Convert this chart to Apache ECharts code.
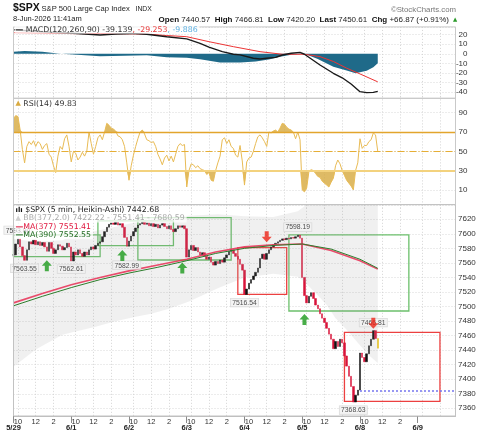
<!DOCTYPE html>
<html><head><meta charset="utf-8">
<script src="https://cdn.jsdelivr.net/npm/echarts@6/dist/echarts.min.js"></script>
<style>html,body{margin:0;padding:0;background:#fff;}#c{width:480px;height:434px;}</style>
</head><body><div id="c"></div>
<script>
// ---------------- data ----------------
const days = ['5/29','6/1','6/2','6/3','6/4','6/5','6/8','6/9'];
const SLOTS = 26;          // 15-min slots per session
const NCAT = 200;          // slots shown on the axis
const labeledDays = 7;     // days that get the 10/12/2 labels
const timeSlotLabels = {2:'10', 10:'12', 18:'2'};

// 15-min closes (Heikin-Ashi style line), 5/29 09:30 .. 6/8 11:30
const closes = [
 7571,7586,7593,7582,7570,7563.55,7578,7589,7586,7591,7585,7589,7584,7588,7582,7576,7588,7580,7573,7578,7585,7583,7578,7581,7587,7582,
 7562.61,7575,7571,7578,7573,7569,7575,7571,7578,7582,7579,7584,7587,7589,7596,7603,7609,7613,7615,7613,7616,7612,7614,7609,7595,7582.99,
 7590,7597,7603,7608,7612,7614,7616,7613,7615,7611,7614,7610,7613,7608,7612,7614,7610,7607,7611,7606,7603,7607,7611,7609,7611,7607,
 7568,7578,7584,7577,7581,7575,7571,7574,7569,7565,7568,7561,7557,7562,7559,7564,7561,7567,7571,7576,7578,7573,7569,7565,7558,7550,
 7516.54,7524,7532,7537,7542,7547,7553,7566,7572,7565,7573,7578,7582,7585,7587,7589,7591,7593,7592,7594,7593,7595,7594,7596,7598.19,7594,
 7540,7515,7505,7514,7519,7511,7502,7497,7490,7484,7478,7470,7462,7455,7442,7452,7445,7455,7450,7432,7418,7404,7390,7368.63,7378,7385,
 7436,7430,7424,7435,7446,7455,7466.81,7456,7442.68
];
const rsi = [
 84,87,86,72,52,38,55,60,57,61,55,60,58,52,56,58,47,44,35,28,45,55,52,63,67,55,
 39,50,48,41,44,49,45,50,70,58,47,55,64,67,62,70,79,77,74,73,71,66,65,62,55,38,
 20,35,46,55,63,70,72,68,62,61,59,60,55,47,42,36,43,46,40,45,39,47,55,58,56,57,
 13,30,37,36,33,35,32,31,30,26,28,20,19,30,38,45,62,64,58,62,55,53,46,44,56,40,
 15,39,43,44,50,58,65,67,64,60,55,70,69,71,72,70,74,79,78,75,73,72,70,63,70,62,
 10,8,12,29,31,30,27,24,23,19,17,15,13,18,22,35,41,37,30,25,20,17,14,10,30,38,
 63,53,56,56,60,62,69,67,49.83
];
const maIdx  = [0,13,26,39,52,65,78,91,104,117,130,143,156,164];
const ma377  = [7505,7518,7530,7540,7549,7557,7565,7575,7582,7585,7586,7577,7563,7551.41];
const ma390  = [7501,7514,7526,7537,7546,7554,7563,7573,7580,7584,7586,7579,7565,7552.55];
const bbIdx   = [0,10,22,27,37,45,55,62,70,79,92,104,117,128,131,138,141,145,150,155,160,164];
const bbLower = [7417,7441,7461,7465,7472,7479,7486,7490,7497,7507,7525,7540,7545,7541,7534,7512,7502,7484,7468,7450,7433,7422.22];
const bbUpper = [7593,7589,7591,7597,7604,7609,7616,7620,7623,7625,7627,7624,7623,7631,7638,7652,7656,7666,7672,7680,7681,7680.59];
const macdIdx  = [0,13,27,39,46,53,60,69,78,84,88,94,99,102,108,111,114,118,121,125,129,131,138,144,148,152,156,159,162,164];
const macdVals = [25,23,21.4,19.6,20.6,21.2,20.3,17.8,15.5,10.9,7,2.2,-0.5,-1.2,-4.7,-5.5,-4.7,-3.7,-1.3,0.5,1.5,-0.5,-11.7,-20.3,-25,-31.5,-39.5,-40.5,-40.2,-39.139];
const sigIdx  = [0,13,27,39,53,60,69,78,88,99,111,121,131,138,144,150,156,164];
const sigVals = [22,21.5,21,21,20.8,20.5,19,17.8,12.6,7.4,2.2,-0.5,-0.5,-3,-8,-15,-21,-29.253];
const histIdx  = [0,5,13,20,27,39,50,60,69,78,84,93,102,109,115,120,125,131,137,144,150,154,159,162,164];
const histVals = [2.0,2.8,2.0,0.3,-0.8,-2.5,-2.0,-1.5,-3.5,-4.2,-5.8,-9.0,-9.2,-8.0,-6.0,-3.0,-1.0,0,-5.5,-13.4,-17.5,-20.3,-17.6,-14.0,-9.886];
const upIdx = [15,49,76,131];   const upVals = [7556,7570,7553,7482];
const downIdx = [114,162];      const downVals = [7596,7477];
const hiloIdx  = [2,5,26,51,104,128,153,162];
const hiloVals = [7593.80,7563.55,7562.61,7582.99,7516.54,7598.19,7368.63,7466.81];
const hiloSide = ['top','bottom','bottom','bottom','bottom','top','bottom','top'];
// annotation boxes: [slotFrom, priceLow, slotTo, priceHigh, kind]
const boxes = [
 [0,7568.6,39,7598.4,'buy'],
 [38,7583.7,72,7617.7,'buy'],
 [56,7564,98,7622.2,'buy'],
 [100.5,7516.8,123,7581,'sell'],
 [124,7493.8,178,7598.4,'buy'],
 [149,7369.4,192,7464.3,'sell']
];
const prevClose = 7383.74;

// ---------------- build ----------------
const categories = [];
for (let k = 0; k < NCAT; k++) {
  const d = Math.floor(k / SLOTS), s = k % SLOTS;
  const m = 570 + s * 15;
  categories.push(days[d] + ' ' + String(Math.floor(m/60)).padStart(2,'0') + ':' + String(m%60).padStart(2,'0'));
}
const isGridCat = i => timeSlotLabels[i % SLOTS] !== undefined;
const isTimeCat = i => isGridCat(i) && Math.floor(i / SLOTS) < labeledDays;
const isDayStart = i => i % SLOTS === 0;
const pairs = (idx, vals) => idx.map((x, k) => [x, vals[k]]);

const ohlc = closes.map((c, i) => {
  const o = i === 0 ? c : closes[i-1];
  const item = {value: [o, c, Math.min(o,c), Math.max(o,c)]};
  if (i === closes.length - 1) item.itemStyle = {color:'#e8c010', color0:'#e8c010', borderColor:'#e8c010', borderColor0:'#e8c010'};
  return item;
});

const GL = 13.5, GW = 442;
const gridLine = {show:true, interval:(i)=>isGridCat(i), lineStyle:{color:'#d4d4d4', type:[1,2], width:1}};
const hSplit = {show:true, lineStyle:{color:'#d8d8d8', type:[1,2], width:1}};
const yLab = {fontSize:8, color:'#333', fontFamily:'Liberation Sans'};
const panelX = (gi) => ({type:'category', gridIndex:gi, data:categories, boundaryGap:false,
  axisLine:{show:false}, axisTick:{show:false}, axisLabel:{show:false}, splitLine:gridLine});

const kindColor = {buy:'#6cc06c', sell:'#ec4040'};
const legendFont = '7.8px "DejaVu Sans"';
const legBg = 'rgba(255,255,255,0.75)';

const option = {
  animation: false,
  backgroundColor: '#fff',
  textStyle: {fontFamily: 'Liberation Sans'},
  grid: [
    {left:GL, width:GW, top:26.9, height:71.4, outerBoundsMode:'none', containLabel:false, show:false},
    {left:GL, width:GW, top:93.4, height:115.8, outerBoundsMode:'none', containLabel:false, show:false},
    {left:GL, width:GW, top:204.8, height:211.2, outerBoundsMode:'none', containLabel:false, show:false}
  ],
  xAxis: [
    panelX(0), panelX(1),
    {type:'category', gridIndex:2, data:categories, boundaryGap:false, position:'bottom',
     axisLine:{show:true, lineStyle:{color:'#bdbdbd'}}, axisTick:{show:false},
     axisLabel:{show:true, interval:(i)=>isTimeCat(i), formatter:(v,i)=>timeSlotLabels[i % SLOTS] || '',
                margin:1.5, fontSize:7.5, color:'#333', fontFamily:'Liberation Sans'},
     splitLine:gridLine},
    {type:'category', gridIndex:2, data:categories, boundaryGap:false, position:'bottom',
     axisLine:{show:false},
     axisTick:{show:true, interval:(i)=>isDayStart(i), length:7, lineStyle:{color:'#8a8a8a'}},
     axisLabel:{show:true, interval:(i)=>isDayStart(i), formatter:(v,i)=>days[Math.floor(i / SLOTS)],
                margin:7.5, fontSize:7.5, fontWeight:'bold', color:'#222', fontFamily:'Liberation Sans'},
     splitLine:{show:false}}
  ],
  yAxis: [
    {type:'value', gridIndex:0, position:'right', min:-46.4, max:28, minInterval:10, maxInterval:10,
     axisLine:{show:false}, axisTick:{show:false},
     axisLabel:Object.assign({align:'right', margin:12, formatter:v => (Math.abs(v % 10) < 1e-6 ? String(v) : '')}, yLab),
     splitLine:hSplit},
    {type:'value', gridIndex:1, position:'right', min:-10, max:110, interval:20,
     axisLine:{show:false}, axisTick:{show:false},
     axisLabel:Object.assign({align:'right', margin:12, showMinLabel:false, showMaxLabel:false,
                formatter:v => (v >= 0 && v <= 100 ? String(v) : '')}, yLab),
     splitLine:Object.assign({showMinLine:false, showMaxLine:false}, hSplit)},
    {type:'value', gridIndex:2, position:'right', min:7349.4, max:7639.9, minInterval:20, maxInterval:20,
     axisLine:{show:false}, axisTick:{show:false},
     axisLabel:Object.assign({margin:2.5, formatter:v => (Math.abs(v % 20) < 1e-6 ? String(v) : '')}, yLab),
     splitLine:hSplit}
  ],
  series: [
    // MACD panel
    {name:'hist', type:'line', xAxisIndex:0, yAxisIndex:0, data:pairs(histIdx, histVals), symbol:'none',
     lineStyle:{width:0}, areaStyle:{color:'#1f6a89', opacity:1}, silent:true},
    {name:'signal', type:'line', xAxisIndex:0, yAxisIndex:0, data:pairs(sigIdx, sigVals), symbol:'none',
     lineStyle:{color:'#ec3535', width:1}, silent:true},
    {name:'macd', type:'line', xAxisIndex:0, yAxisIndex:0, data:pairs(macdIdx, macdVals), symbol:'none',
     lineStyle:{color:'#1a1a1a', width:1.4}, silent:true},
    // RSI panel
    {name:'rsiHi', type:'line', xAxisIndex:1, yAxisIndex:1, data:rsi.map(v => Math.max(v, 70)), symbol:'none',
     lineStyle:{width:0}, areaStyle:{origin:70, color:'#d6a93e', opacity:0.8}, silent:true},
    {name:'rsiLo', type:'line', xAxisIndex:1, yAxisIndex:1, data:rsi.map(v => Math.min(v, 30)), symbol:'none',
     lineStyle:{width:0}, areaStyle:{origin:30, color:'#d6a93e', opacity:0.8}, silent:true},
    {name:'rsi', type:'line', xAxisIndex:1, yAxisIndex:1, data:rsi, symbol:'none',
     lineStyle:{color:'#e8bb55', width:1}, silent:true,
     markLine:{silent:true, symbol:['none','none'], label:{show:false},
       data:[
         {yAxis:70, lineStyle:{color:'#e2a52c', width:1.4, type:'solid'}},
         {yAxis:50, lineStyle:{color:'#e6ae35', width:1.2, type:[7,2,1,2]}},
         {yAxis:30, lineStyle:{color:'#f3d27e', width:2.2, type:'solid'}}
       ]}},
    // Price panel
    {name:'bbLow', type:'line', xAxisIndex:2, yAxisIndex:2, data:pairs(bbIdx, bbLower), stack:'bb', symbol:'none',
     lineStyle:{width:0}, silent:true},
    {name:'bbSpan', type:'line', xAxisIndex:2, yAxisIndex:2, data:bbIdx.map((x,k)=>[x, bbUpper[k]-bbLower[k]]), stack:'bb', symbol:'none',
     lineStyle:{width:0}, areaStyle:{color:'rgba(150,150,150,0.2)'}, silent:true},
    {name:'ma377', type:'line', xAxisIndex:2, yAxisIndex:2, data:pairs(maIdx, ma377), symbol:'none',
     lineStyle:{color:'#e8385c', width:1.6, opacity:0.9}, silent:true},
    {name:'ma390', type:'line', xAxisIndex:2, yAxisIndex:2, data:pairs(maIdx, ma390), symbol:'none',
     lineStyle:{color:'#2c7d2c', width:1}, silent:true},
    {name:'price', type:'candlestick', xAxisIndex:2, yAxisIndex:2, data:ohlc, barWidth:2, silent:true,
     itemStyle:{color:'#111', color0:'#d8143a', borderColor:'#111', borderColor0:'#d8143a', borderWidth:0.5}},
    {name:'notes', type:'line', xAxisIndex:2, yAxisIndex:2, data:[], z:5, silent:true,
     markArea:{silent:true, label:{show:false},
       data: boxes.map(b => [
         {coord:[b[0], b[1]], itemStyle:{color:'rgba(0,0,0,0)', borderColor:kindColor[b[4]], borderWidth:1.3}},
         {coord:[b[2], b[3]]}
       ])},
     markLine:{silent:true, symbol:['none','none'], label:{show:false},
       lineStyle:{color:'#7676ee', type:[2,2], width:1.5},
       data:[[{coord:[156, prevClose]}, {coord:[NCAT-1, prevClose]}]]}},
    {name:'hilo', type:'scatter', xAxisIndex:2, yAxisIndex:2, symbolSize:0.1, z:6, silent:true,
     data: hiloIdx.map((x,k) => ({value:[x, hiloVals[k]],
       label:{show:true, position:hiloSide[k], distance: (k === 3 ? 15 : 4),
              formatter: hiloVals[k].toFixed(2), fontSize:6.8, color:'#222', fontFamily:'Liberation Sans',
              backgroundColor:'#f3f3f3', borderColor:'#cfcfcf', borderWidth:0.6, padding:[1,1.5,0,1.5]}}))},
    {name:'buy', type:'scatter', xAxisIndex:2, yAxisIndex:2, data:pairs(upIdx, upVals), z:7, silent:true,
     symbol:'path://M5,0 L10,5 L7,5 L7,10 L3,10 L3,5 L0,5 Z', symbolSize:[10,11],
     itemStyle:{color:'#1c9a1c'}},
    {name:'sell', type:'scatter', xAxisIndex:2, yAxisIndex:2, data:pairs(downIdx, downVals), z:7, silent:true,
     symbol:'path://M3,0 L7,0 L7,5 L10,5 L5,10 L0,5 L3,5 Z', symbolSize:[10,11],
     itemStyle:{color:'#ee2418'}}
  ],
  graphic: [
    // panel frames
    {type:'rect', z:50, silent:true, shape:{x:GL, y:26.9, width:GW, height:71.4}, style:{fill:'none', stroke:'#c9c9c9', lineWidth:1}},
    {type:'rect', z:50, silent:true, shape:{x:GL, y:98.3, width:GW, height:106.3}, style:{fill:'none', stroke:'#c9c9c9', lineWidth:1}},
    {type:'rect', z:50, silent:true, shape:{x:GL, y:204.6, width:GW, height:211.4}, style:{fill:'none', stroke:'#c2c2c2', lineWidth:1}},
    // header
    {type:'text', z:100, x:13, y:8, style:{text:'$SPX', font:'bold 10.5px "Liberation Sans"', fill:'#111', verticalAlign:'middle', textVerticalAlign:'middle'}},
    {type:'text', z:100, x:41.5, y:8.5, style:{text:'S&P 500 Large Cap Index', font:'7.6px "Liberation Sans"', fill:'#222', verticalAlign:'middle', textVerticalAlign:'middle'}},
    {type:'text', z:100, x:135.5, y:8.8, style:{text:'INDX', font:'6.8px "Liberation Sans"', fill:'#222', verticalAlign:'middle', textVerticalAlign:'middle'}},
    {type:'text', z:100, x:456, y:9.5, style:{text:'©StockCharts.com', font:'7.8px "Liberation Sans"', fill:'#777', align:'right', textAlign:'right', verticalAlign:'middle', textVerticalAlign:'middle'}},
    {type:'text', z:100, x:13, y:19.3, style:{text:'8-Jun-2026 11:41am', font:'7.5px "Liberation Sans"', fill:'#222', verticalAlign:'middle', textVerticalAlign:'middle'}},
    {type:'text', z:100, x:449, y:19.3, style:{
      text:'{b|Open} 7440.57  {b|High} 7466.81  {b|Low} 7420.20  {b|Last} 7450.61  {b|Chg} +66.87 (+0.91%)',
      font:'8px "Liberation Sans"', fill:'#222', align:'right', textAlign:'right', verticalAlign:'middle', textVerticalAlign:'middle',
      rich:{b:{font:'bold 8px "Liberation Sans"', fill:'#111'}}}},
    {type:'text', z:100, x:453, y:19.8, style:{text:'▲', font:'5.5px "DejaVu Sans"', fill:'#2a9a2a', verticalAlign:'middle', textVerticalAlign:'middle'}},
    // MACD legend
    {type:'text', z:100, x:14.5, y:29.8, style:{
      text:'{i|—} MACD(120,260,90) -39.139{r|, -29.253}{c|, -9.886}', font:legendFont, fill:'#333',
      verticalAlign:'middle', textVerticalAlign:'middle', backgroundColor:legBg, padding:[0,2,0,1],
      rich:{i:{font:'bold 7.8px "DejaVu Sans"', fill:'#111'}, r:{font:legendFont, fill:'#e83a3a'}, c:{font:legendFont, fill:'#5eb0e0'}}}},
    // RSI legend
    {type:'text', z:100, x:14.5, y:103.5, style:{
      text:'{i|▲} RSI(14) 49.83', font:legendFont, fill:'#333',
      verticalAlign:'middle', textVerticalAlign:'middle', backgroundColor:legBg, padding:[0,2,0,1],
      rich:{i:{font:'7px "DejaVu Sans"', fill:'#d9aa40'}}}},
    // price legend
    {type:'text', z:100, x:14.5, y:210, style:{
      text:'{i|ılı} $SPX (5 min, Heikin-Ashi) 7442.68', font:legendFont, fill:'#222',
      verticalAlign:'middle', textVerticalAlign:'middle', backgroundColor:legBg, padding:[0,2,0,1],
      rich:{i:{font:'bold 7px "DejaVu Sans"', fill:'#111'}}}},
    {type:'text', z:100, x:14.5, y:218.4, style:{
      text:'{i|▲} BB(377,2.0) 7422.22 - 7551.41 - 7680.59', font:legendFont, fill:'#a9a9a9',
      verticalAlign:'middle', textVerticalAlign:'middle', backgroundColor:legBg, padding:[0,2,0,1],
      rich:{i:{font:'7px "DejaVu Sans"', fill:'#cfcfcf'}}}},
    {type:'text', z:100, x:14.5, y:226.8, style:{
      text:'{i|—}MA(377) 7551.41', font:legendFont, fill:'#e0163e',
      verticalAlign:'middle', textVerticalAlign:'middle', backgroundColor:legBg, padding:[0,2,0,1],
      rich:{i:{font:'bold 7.8px "DejaVu Sans"', fill:'#e0163e'}}}},
    {type:'text', z:100, x:14.5, y:235.2, style:{
      text:'{i|—}MA(390) 7552.55', font:legendFont, fill:'#1f6a1f',
      verticalAlign:'middle', textVerticalAlign:'middle', backgroundColor:legBg, padding:[0,2,0,1],
      rich:{i:{font:'bold 7.8px "DejaVu Sans"', fill:'#1f6a1f'}}}}
  ]
};

const chart = echarts.init(document.getElementById('c'), null, {renderer:'canvas', width:480, height:434});
chart.setOption(option);
</script></body></html>
